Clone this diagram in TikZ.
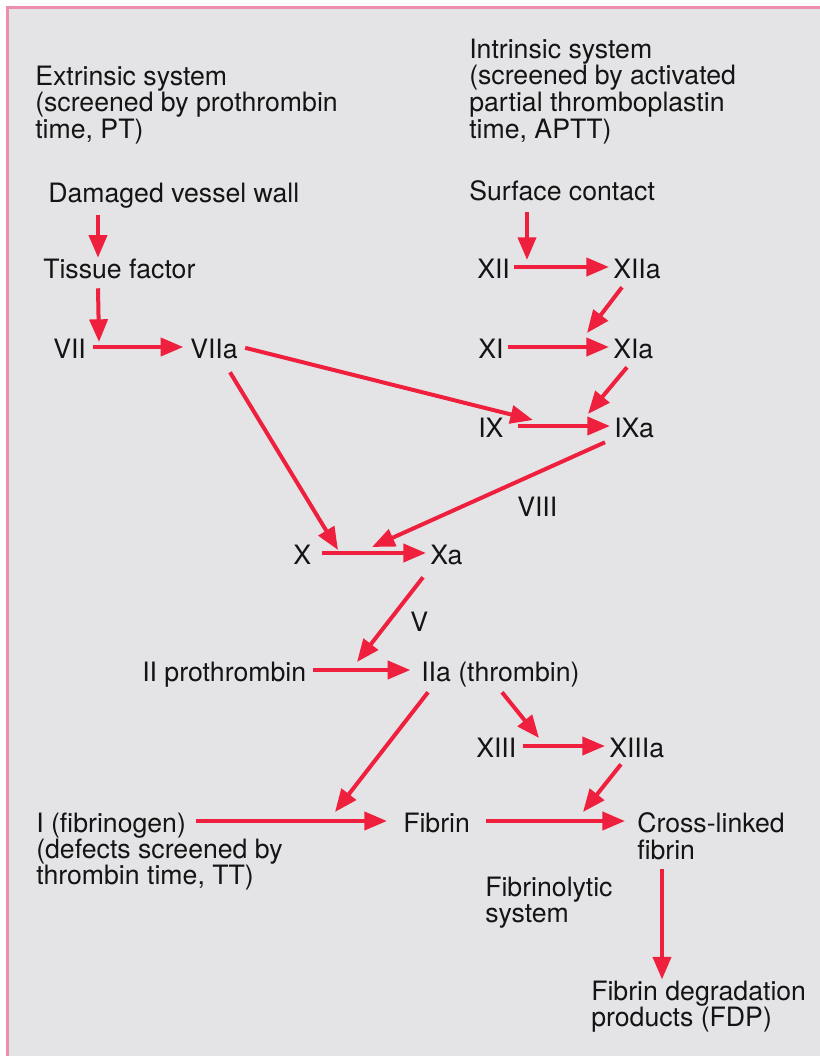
\documentclass[tikz,border=0pt]{standalone}
\usepackage{fontspec}
\setmainfont{TeX Gyre Heros}
\usetikzlibrary{arrows.meta, calc}

\definecolor{clotred}{RGB}{238,32,62}
\definecolor{pagegrey}{RGB}{228,228,230}
\definecolor{edgepink}{RGB}{236,142,172}
\definecolor{inkblack}{RGB}{20,20,20}

\begin{document}
\begin{tikzpicture}[
    x=0.75pt, y=-0.75pt,
    factor/.style={inner sep=0pt, inner xsep=3pt, text height=16.5pt, text depth=0pt, anchor=base west, font=\fontsize{20pt}{20pt}\selectfont, text=inkblack},
    block/.style={inner sep=0pt, anchor=north west, align=left, font=\fontsize{20pt}{20pt}\selectfont, text=inkblack},
    act/.style={draw=clotred, line width=3pt, -{Triangle[length=17pt, width=13.5pt]}}
]
    \useasboundingbox (0,0) rectangle (820,1056);
    % Page and border
    \fill[white!97!pagegrey] (0,0) rectangle (820,1056);
    \fill[pagegrey] (8,8) rectangle (820,1056);
    \draw[edgepink, line width=2.2pt] (7.5,1056) -- (7.5,7.5) -- (820,7.5);

    % Extrinsic side
    \node[block] (ext) at (35,65.5) {Extrinsic system\\(screened by prothrombin\\time, PT)};
    \node[factor] (dmg) at (44,202) {Damaged vessel wall};
    \node[factor] (tf) at (39,278) {Tissue factor};
    \node[factor] (vii) at (49,358) {VII};
    \node[factor] (viia) at (186,358) {VIIa};

    % Intrinsic side
    \node[block] (intr) at (469,38.5) {Intrinsic system\\(screened by activated\\partial thromboplastin\\time, APTT)};
    \node[factor] (surf) at (465,200) {Surface contact};
    \node[factor] (xii) at (473,278) {XII};
    \node[factor] (xiia) at (609,278) {XIIa};
    \node[factor] (xi) at (474,358) {XI};
    \node[factor] (xia) at (609,358) {XIa};
    \node[factor] (ix) at (474,437) {IX};
    \node[factor] (ixa) at (610,437) {IXa};
    \node[factor] (viii) at (513,516) {VIII};

    % Common pathway
    \node[factor] (x) at (289,564) {X};
    \node[factor] (xa) at (426,564) {Xa};
    \node[factor] (v) at (406,631) {V};
    \node[factor] (ii) at (138,681) {II prothrombin};
    \node[factor] (iia) at (417,681) {IIa (thrombin)};
    \node[factor] (xiii) at (472,757) {XIII};
    \node[factor] (xiiia) at (605,757) {XIIIa};
    \node[factor] (fbg) at (32,832) {I (fibrinogen)};
    \node[block] (fbgnote) at (36,838.5) {(defects screened by\\thrombin time, TT)};
    \node[factor] (fib) at (399,832) {Fibrin};
    \node[block] (cross) at (637,812.5) {Cross-linked\\fibrin};
    \node[block] (lys) at (485,876.5) {Fibrinolytic\\system};
    \node[block] (fdp) at (591,980.5) {Fibrin degradation\\products (FDP)};

    % Points where one arrow meets another
    \coordinate (jvii) at (99,342);
    \coordinate (jxii) at (527,260);
    \coordinate (jxi) at (587,333);
    \coordinate (jix) at (588,414);
    \coordinate (jixl) at (533,420);
    \coordinate (jxl) at (338,550);
    \coordinate (jxr) at (372,547);
    \coordinate (jii) at (357,662);
    \coordinate (jfib) at (335,812);
    \coordinate (jxiii) at (539,738);
    \coordinate (jcross) at (583,812);

    % Arrows
    \draw[act] ($(dmg.south west)+(54,13)$) -- ($(tf.north west)+(59,2)$);
    \draw[act] ($(tf.south west)+(59,10)$) -- (jvii);
    \draw[act, shorten <=2pt, shorten >=2pt] (vii) -- (viia);
    \draw[act] ($(surf.south west)+(62,12)$) -- (jxii);
    \draw[act] (xii) -- (xiia);
    \draw[act] ($(xiia.south west)+(13,9)$) -- (jxi);
    \draw[act] (xi) -- (xia);
    \draw[act] ($(xia.south west)+(18,9)$) -- (jix);
    \draw[act, shorten <=2.5pt] (viia.east) -- (jixl);
    \draw[act, shorten <=7.5pt] (ix) -- (ixa);
    \draw[act] ($(viia.south west)+(44,14)$) -- (jxl);
    \draw[act] ($(ixa.south west)+(-5,5)$) -- (jxr);
    \draw[act, shorten <=5pt] (x) -- (xa);
    \draw[act] ($(xa.south west)+(-3,13)$) -- (jii);
    \draw[act, shorten <=2pt, shorten >=5pt] (ii) -- (iia);
    \draw[act] ($(iia.south west)+(11,11)$) -- (jfib);
    \draw[act] ($(iia.south west)+(85,11)$) -- (jxiii);
    \draw[act, shorten <=1.5pt] (xiii) -- (xiiia);
    \draw[act] ($(xiiia.south west)+(16,7)$) -- (jcross);
    \draw[act, shorten <=4.5pt, shorten >=9pt] (fbg) -- (fib);
    \draw[act, shorten <=9pt, shorten >=9pt] (fib) -- (fib -| cross.west);
    \draw[act] ($(cross.south west)+(25,9)$) -- ($(fdp.north west)+(71,-1)$);
\end{tikzpicture}
\end{document}
